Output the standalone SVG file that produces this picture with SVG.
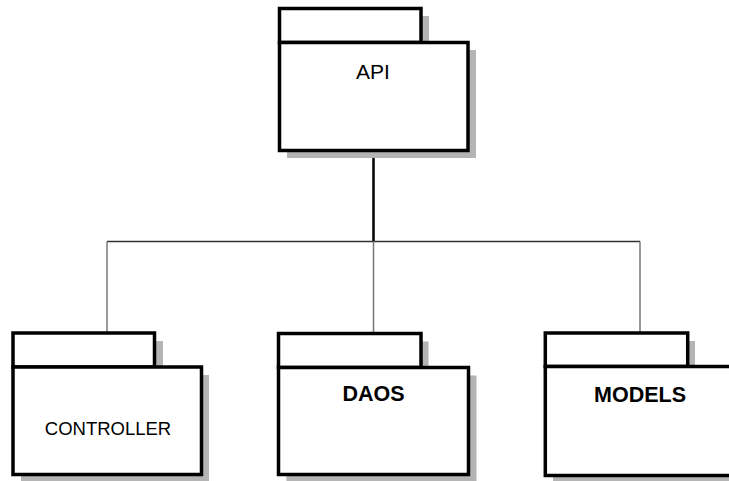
<svg xmlns="http://www.w3.org/2000/svg" width="729" height="481" viewBox="0 0 729 481">
<defs>
<style>
.sh{fill:#b4b4b4;stroke:none}
.bx{fill:#ffffff;stroke:#000000;stroke-width:3.5}
.t{font-family:"Liberation Sans",Arial,sans-serif;fill:#000000;text-anchor:middle}
.b{font-weight:bold}
</style>
</defs>
<rect width="729" height="481" fill="#ffffff"/>
<g id="connectors" fill="none">
<line x1="373.5" y1="151" x2="373.5" y2="241.5" stroke="#000000" stroke-width="2.5"/>
<line x1="107" y1="241.5" x2="640" y2="241.5" stroke="#333333" stroke-width="1.3"/>
<line x1="107" y1="241.5" x2="107" y2="333" stroke="#777777" stroke-width="1.5"/>
<line x1="373.5" y1="241.5" x2="373.5" y2="333" stroke="#777777" stroke-width="1.5"/>
<line x1="640" y1="241.5" x2="640" y2="333" stroke="#777777" stroke-width="1.5"/>
</g>
<g id="api">
<rect class="sh" x="287" y="16" width="142" height="34"/>
<rect class="sh" x="287" y="50" width="189" height="108"/>
<rect class="bx" x="279.5" y="8.5" width="141.5" height="34"/>
<rect class="bx" x="279.5" y="42.5" width="188.5" height="108"/>
<text class="t" x="373" y="79" font-size="21">API</text>
</g>
<g id="controller">
<rect class="sh" x="21" y="341" width="142" height="34"/>
<rect class="sh" x="21" y="375" width="188" height="108"/>
<rect class="bx" x="13" y="333" width="141.5" height="34"/>
<rect class="bx" x="13" y="367" width="188.5" height="107.5"/>
<text class="t" x="108" y="435" font-size="18.5">CONTROLLER</text>
</g>
<g id="daos">
<rect class="sh" x="286.5" y="341.5" width="142" height="34"/>
<rect class="sh" x="286.5" y="375.5" width="190" height="107"/>
<rect class="bx" x="278.5" y="333.5" width="142.5" height="34"/>
<rect class="bx" x="278.5" y="367.5" width="190" height="107"/>
<text class="t b" x="373.5" y="401" font-size="21.5">DAOS</text>
</g>
<g id="models">
<rect class="sh" x="553" y="341" width="142" height="34"/>
<rect class="sh" x="553" y="375" width="190" height="108"/>
<rect class="bx" x="545.3" y="333" width="142.4" height="33.5"/>
<rect class="bx" x="545.3" y="366.5" width="190" height="109"/>
<text class="t b" x="640" y="401.5" font-size="21.5">MODELS</text>
</g>
</svg>
